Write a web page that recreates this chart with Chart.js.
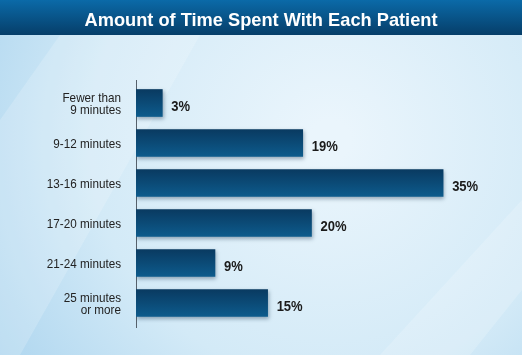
<!DOCTYPE html>
<html>
<head>
<meta charset="utf-8">
<title>Amount of Time Spent With Each Patient</title>
<script src="https://cdn.jsdelivr.net/npm/chart.js@4/dist/chart.umd.min.js"></script>
<style>
    html, body { margin: 0; padding: 0; background: #d6ebf7; }
    #wrap { width: 522px; height: 355px; position: relative; }
</style>
</head>
<body>
<div id="wrap"><canvas id="time-chart"></canvas></div>
<script>
// chart data
const chartTitle = 'Amount of Time Spent With Each Patient';
const categories = [
    ['Fewer than', '9 minutes'],
    '9-12 minutes',
    '13-16 minutes',
    '17-20 minutes',
    '21-24 minutes',
    ['25 minutes', 'or more']
];
const percentValues = [3, 19, 35, 20, 9, 15];
const xMax = 40;

const FONT = '"Liberation Sans", Arial, sans-serif';

// draw text squeezed horizontally (the original uses a condensed face)
function squeezedText(ctx, text, x, y, squeeze) {
    ctx.save();
    ctx.translate(x, y);
    ctx.scale(squeeze, 1);
    ctx.fillText(text, 0, 0);
    ctx.restore();
}

// background, title bar, axis line, labels
const backdropPlugin = {
    id: 'backdrop',
    beforeDraw(chart) {
        const { ctx, width, height } = chart;
        ctx.save();
        const bg = ctx.createRadialGradient(330, 140, 20, 330, 140, 420);
        bg.addColorStop(0, '#eaf5fc');
        bg.addColorStop(0.55, '#d3eaf7');
        bg.addColorStop(1, '#a9d3ee');
        ctx.fillStyle = bg;
        ctx.fillRect(0, 0, width, height);

        // faint diagonal light rays
        ctx.fillStyle = 'rgba(255,255,255,0.18)';
        ctx.beginPath();
        ctx.moveTo(60, 35); ctx.lineTo(200, 35); ctx.lineTo(20, height); ctx.lineTo(0, height); ctx.lineTo(0, 120);
        ctx.closePath();
        ctx.fill();
        ctx.beginPath();
        ctx.moveTo(380, height); ctx.lineTo(width, 200); ctx.lineTo(width, 290); ctx.lineTo(470, height);
        ctx.closePath();
        ctx.fill();

        const bar = ctx.createLinearGradient(0, 0, 0, 35);
        bar.addColorStop(0, '#0b6aa8');
        bar.addColorStop(1, '#063e69');
        ctx.fillStyle = bar;
        ctx.fillRect(0, 0, width, 35);

        ctx.fillStyle = '#ffffff';
        ctx.font = 'bold 18.5px ' + FONT;
        ctx.textAlign = 'center';
        ctx.textBaseline = 'alphabetic';
        const w = ctx.measureText(chartTitle).width;
        squeezedText(ctx, chartTitle, width / 2, 26, Math.min(1, 353 / w));
        ctx.restore();
    },
    beforeDatasetsDraw(chart) {
        const { ctx, chartArea } = chart;
        const yScale = chart.scales.y;
        ctx.save();
        // axis line
        ctx.strokeStyle = '#56616b';
        ctx.lineWidth = 1;
        ctx.beginPath();
        ctx.moveTo(chartArea.left + 0.5, chartArea.top - 3);
        ctx.lineTo(chartArea.left + 0.5, chartArea.bottom + 5);
        ctx.stroke();

        // category labels, right aligned next to the axis
        ctx.fillStyle = '#222222';
        ctx.font = '13px ' + FONT;
        ctx.textAlign = 'right';
        ctx.textBaseline = 'alphabetic';
        chart.data.labels.forEach((label, i) => {
            const lines = Array.isArray(label) ? label : [label];
            const yc = yScale.getPixelForValue(i);
            const first = yc + 4.5 - (lines.length - 1) * 6;
            lines.forEach((line, k) => {
                squeezedText(ctx, line, chartArea.left - 15, first + k * 12, 0.9);
            });
        });
        ctx.restore();

        // soft shadow under the bars
        ctx.save();
        ctx.shadowColor = 'rgba(0, 30, 60, 0.35)';
        ctx.shadowBlur = 4;
        ctx.shadowOffsetX = 1;
        ctx.shadowOffsetY = 2;
    },
    afterDatasetsDraw(chart) {
        const { ctx } = chart;
        ctx.restore();
        // value labels at the end of each bar
        const meta = chart.getDatasetMeta(0);
        ctx.save();
        ctx.fillStyle = '#1b1b1b';
        ctx.font = 'bold 15.5px ' + FONT;
        ctx.textAlign = 'left';
        ctx.textBaseline = 'alphabetic';
        meta.data.forEach((bar, i) => {
            squeezedText(ctx, percentValues[i] + '%', bar.x + 9, bar.y + 7.5, 0.84);
        });
        ctx.restore();
    }
};

function barFill(context) {
    const chart = context.chart;
    if (!chart.chartArea) return '#0b4a78';
    const yc = chart.scales.y.getPixelForValue(context.dataIndex);
    const g = chart.ctx.createLinearGradient(0, yc - 13.5, 0, yc + 13.5);
    g.addColorStop(0, '#093a61');
    g.addColorStop(1, '#0d5b8c');
    return g;
}

new Chart(document.getElementById('time-chart'), {
    type: 'bar',
    data: {
        labels: categories,
        datasets: [{
            data: percentValues,
            backgroundColor: barFill,
            borderWidth: 0,
            barThickness: 27
        }]
    },
    options: {
        indexAxis: 'y',
        responsive: true,
        maintainAspectRatio: false,
        animation: false,
        layout: {
            padding: { top: 83, bottom: 32, left: 0, right: 35 }
        },
        plugins: {
            legend: { display: false },
            title: { display: false },
            tooltip: { enabled: false }
        },
        scales: {
            x: {
                display: false,
                min: 0,
                max: xMax
            },
            y: {
                afterFit(scale) { scale.width = 136; },
                grid: { display: false },
                border: { display: false },
                ticks: { display: false }
            }
        }
    },
    plugins: [backdropPlugin]
});
</script>
</body>
</html>
